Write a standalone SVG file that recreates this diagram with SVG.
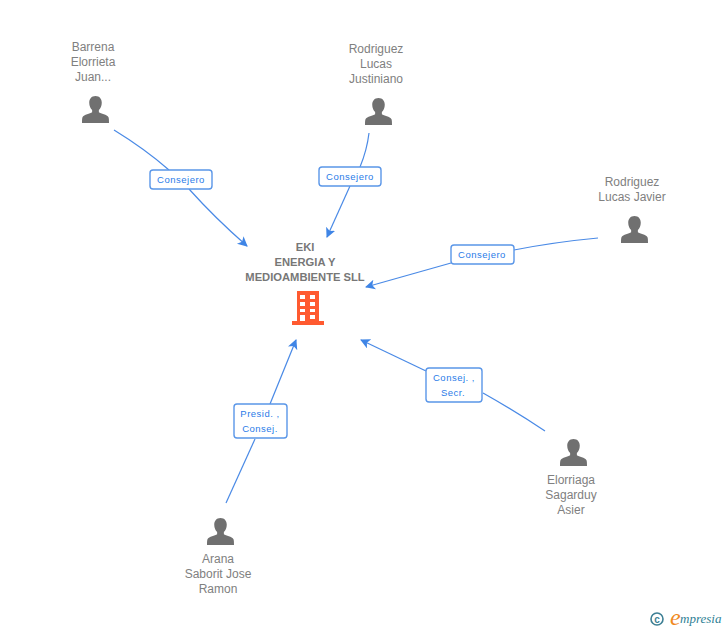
<svg xmlns="http://www.w3.org/2000/svg" width="728" height="630" viewBox="0 0 728 630">
<style>
text{font-family:"Liberation Sans",Arial,sans-serif}
.n{font-size:12px;fill:#808080;text-anchor:middle}
.c{font-size:11.2px;font-weight:bold;fill:#777;text-anchor:middle}
.l{font-size:9.500px;fill:#2a7be8;text-anchor:middle;letter-spacing:.5px}
.e{fill:none;stroke:#4a8ae6;stroke-width:1.2}
.b{fill:#fff;stroke:#5a96e8;stroke-width:1.4}
.p{fill:#707070}
</style>
<defs>
<marker id="a" markerUnits="userSpaceOnUse" markerWidth="12" markerHeight="12" refX="9" refY="5" orient="auto"><path d="M0 0L10 5L0 10L2.500 5Z" fill="#3f85e6"/></marker>
<symbol id="person" viewBox="0 0 28 28" overflow="visible"><path class="p" d="M14 0c4.200 0 6.500 3 6.500 7 0 3.200-1.300 6-3 7.500v2.300c2 1.200 8.500 2.500 10 5.200 .4 .9 .5 3.500 .5 6H0c0-2.500.1-5.100.5-6 1.500-2.700 8-4 10-5.200v-2.300c-1.700-1.500-3-4.300-3-7.500C7.500 3 9.800 0 14 0Z"/></symbol>
</defs>
<g id="connectors">
<path class="e" d="M114 130Q145 149 169 170"/>
<path class="e" d="M189 189Q215 218 247 246" marker-end="url(#a)"/>
<path class="e" d="M369 133Q367 150 360 167"/>
<path class="e" d="M350 186L327 237" marker-end="url(#a)"/>
<path class="e" d="M598 238Q555 242 514 250"/>
<path class="e" d="M451 263L366 287" marker-end="url(#a)"/>
<path class="e" d="M545 431Q515 411 483 393"/>
<path class="e" d="M426 371L361 340" marker-end="url(#a)"/>
<path class="e" d="M226 503L255 439"/>
<path class="e" d="M270 404L296 340" marker-end="url(#a)"/>
</g>
<g id="label-1"><rect class="b" x="150" y="170" width="62" height="19" rx="3"/><text class="l" x="181" y="183">Consejero</text></g>
<g id="label-2"><rect class="b" x="319" y="167" width="62" height="19" rx="3"/><text class="l" x="350" y="180">Consejero</text></g>
<g id="label-3"><rect class="b" x="451" y="245" width="63" height="19" rx="3"/><text class="l" x="482" y="258">Consejero</text></g>
<g id="label-4"><rect class="b" x="426" y="368" width="56" height="34" rx="3"/><text class="l" x="454" y="381">Consej. ,</text><text class="l" x="453" y="396">Secr.</text></g>
<g id="label-5"><rect class="b" x="234" y="404" width="53" height="34" rx="3"/><text class="l" x="260" y="417">Presid. ,</text><text class="l" x="260" y="432">Consej.</text></g>
<g id="node-barrena"><text class="n" x="93" y="51">Barrena</text><text class="n" x="93" y="66">Elorrieta</text><text class="n" x="93" y="81">Juan...</text><use href="#person" x="82" y="96" width="27" height="27"/></g>
<g id="node-justiniano"><text class="n" x="376" y="53">Rodriguez</text><text class="n" x="376" y="68">Lucas</text><text class="n" x="376" y="83">Justiniano</text><use href="#person" x="365" y="98" width="27" height="27"/></g>
<g id="node-javier"><text class="n" x="632" y="186">Rodriguez</text><text class="n" x="632" y="201">Lucas Javier</text><use href="#person" x="621" y="216" width="27" height="27"/></g>
<g id="node-asier"><use href="#person" x="560" y="439" width="27" height="27"/><text class="n" x="571" y="484">Elorriaga</text><text class="n" x="571" y="499">Sagarduy</text><text class="n" x="571" y="514">Asier</text></g>
<g id="node-arana"><use href="#person" x="207" y="518" width="27" height="27"/><text class="n" x="218" y="563">Arana</text><text class="n" x="218" y="578">Saborit Jose</text><text class="n" x="218" y="593">Ramon</text></g>
<g id="node-eki"><text class="c" x="305" y="251">EKI</text><text class="c" x="305" y="266">ENERGIA Y</text><text class="c" x="305" y="281">MEDIOAMBIENTE SLL</text>
<path fill="#ff5a30" fill-rule="evenodd" d="M297 291H319V321H324V325H292V321H297ZM300 295V299H305V295ZM310 295V299H315V295ZM300 302V306H305V302ZM310 302V306H315V302ZM300 309V312H305V309ZM310 309V312H315V309ZM300 315V321H305V315ZM310 315V319H315V315Z"/></g>
<g id="logo"><circle cx="657" cy="619" r="6" fill="none" stroke="#3d7f94" stroke-width="1.600"/><text x="657" y="622.500" font-size="10" fill="#3d7f94" text-anchor="middle" font-weight="bold">c</text><text x="670" y="625" font-size="24" fill="#f08a1e" style="font-family:'Liberation Serif',serif" font-style="italic">e</text><text x="680" y="623" font-size="13" fill="#2f7f95" style="font-family:'Liberation Serif',serif" font-style="italic">mpresia</text></g>
</svg>
